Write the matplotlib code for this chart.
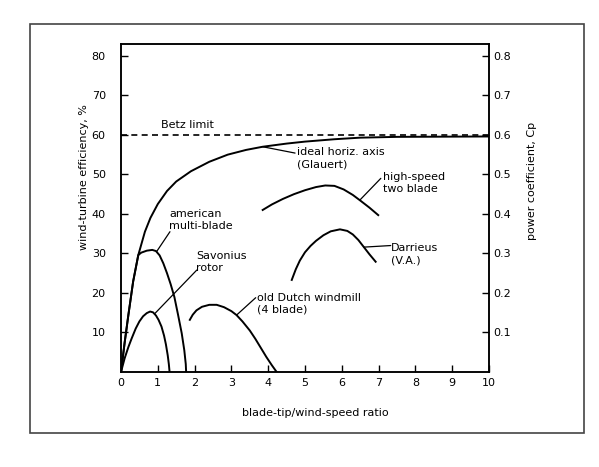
import matplotlib
matplotlib.use('Agg')
from matplotlib import pyplot as plt
from matplotlib.patches import Rectangle

# values (tip speed ratio, efficiency %)
glauert_x = [0, 0.1, 0.2, 0.33, 0.47, 0.65, 0.8, 1.0, 1.25, 1.5, 1.9, 2.4,
             2.9, 3.4, 3.85, 4.5, 5.0, 5.8, 6.5, 7.5, 10.0]
glauert_y = [0, 7.5, 14.4, 22.9, 29.6, 35.5, 39.0, 42.5, 45.8, 48.2, 50.8,
             53.2, 55.0, 56.2, 57.0, 57.8, 58.3, 58.9, 59.3, 59.5, 59.6]

american_x = [0, 0.1, 0.2, 0.33, 0.47, 0.55, 0.7, 0.85, 0.95, 1.05, 1.15,
              1.25, 1.35, 1.45, 1.55, 1.65, 1.72, 1.76, 1.77]
american_y = [0, 7.5, 14.4, 22.9, 29.6, 30.2, 30.7, 30.9, 30.6, 29.5, 27.5,
              25.0, 22.2, 19.0, 14.5, 9.8, 5.5, 2.0, 0]

savonius_x = [0, 0.1, 0.2, 0.29, 0.4, 0.5, 0.6, 0.7, 0.79, 0.87, 0.95, 1.02,
              1.1, 1.17, 1.22, 1.27, 1.3, 1.32]
savonius_y = [0, 3.5, 6.3, 8.5, 11.0, 12.8, 14.1, 14.9, 15.3, 15.1, 14.3,
              13.2, 11.5, 9.2, 7.0, 4.2, 2.0, 0]

dutch_x = [1.87, 1.95, 2.05, 2.2, 2.4, 2.6, 2.8, 3.0, 3.14, 3.3, 3.5, 3.65,
           3.8, 3.95, 4.1, 4.23]
dutch_y = [13.2, 14.5, 15.6, 16.5, 17.0, 17.0, 16.4, 15.4, 14.4, 12.8, 10.5,
           8.4, 6.1, 3.8, 1.7, 0]

highspeed_x = [3.85, 4.1, 4.4, 4.7, 5.0, 5.3, 5.55, 5.8, 6.05, 6.3, 6.5,
               6.75, 6.99]
highspeed_y = [41.0, 42.4, 43.8, 45.0, 46.0, 46.8, 47.2, 47.1, 46.2, 44.8,
               43.4, 41.6, 39.7]

darrieus_x = [4.64, 4.75, 4.86, 5.0, 5.15, 5.3, 5.5, 5.7, 5.95, 6.15, 6.3,
              6.45, 6.6, 6.75, 6.92]
darrieus_y = [23.3, 26.0, 28.2, 30.3, 31.9, 33.2, 34.6, 35.6, 36.1, 35.7,
              34.8, 33.4, 31.6, 29.8, 27.9]

betz = 60
eff_ticks = [10, 20, 30, 40, 50, 60, 70, 80]
cp_ticks = [0.1, 0.2, 0.3, 0.4, 0.5, 0.6, 0.7, 0.8]
x_ticks = [0, 1, 2, 3, 4, 5, 6, 7, 8, 9, 10]

plt.rcParams['font.family'] = ['DejaVu Sans']
fs = 8

fig = plt.figure(figsize=(5.99, 4.67), dpi=100)
ax = fig.add_axes([121 / 599, 1 - 372 / 467, 368 / 599, 328 / 467])

# outer frame around the whole figure
fig.patches.append(Rectangle((30 / 599, 1 - 433 / 467), 554 / 599, 409 / 467,
                             transform=fig.transFigure, fill=False,
                             ec='#444444', lw=1.2))

lw = 1.4
for xs, ys in [(glauert_x, glauert_y), (american_x, american_y),
               (savonius_x, savonius_y), (dutch_x, dutch_y),
               (highspeed_x, highspeed_y), (darrieus_x, darrieus_y)]:
    ax.plot(xs, ys, c='k', lw=lw, solid_joinstyle='round')
ax.axhline(betz, c='k', lw=1.2, ls=(0, (3.6, 2.6)))

ax.set_xlim(0, 10)
ax.set_ylim(0, 83)
ax.set_xticks(x_ticks)
ax.set_yticks(eff_ticks)
ax.tick_params(axis='y', direction='in', length=5, width=1, pad=11,
               labelsize=fs)
ax.tick_params(axis='x', direction='in', length=5, width=1, pad=4,
               labelsize=fs)
for s in ax.spines.values():
    s.set_linewidth(1.1)

ax2 = ax.twinx()
ax2.set_ylim(0, 0.83)
ax2.set_yticks(cp_ticks)
ax2.set_yticklabels([f'{v:.1f}' for v in cp_ticks])
ax2.tick_params(axis='y', direction='in', length=5, width=1, pad=3,
                labelsize=fs)
for s in ax2.spines.values():
    s.set_linewidth(1.1)

fig.text(315 / 599, 1 - 413 / 467, 'blade-tip/wind-speed ratio', fontsize=fs,
         ha='center', va='center')
fig.text(84 / 599, 1 - 177 / 467, 'wind-turbine efficiency, %', fontsize=fs,
         ha='center', va='center', rotation=90)
fig.text(532 / 599, 1 - 181 / 467, 'power coefficient, Cp', fontsize=fs,
         ha='center', va='center', rotation=90)

# labels with leader lines
ax.text(1.1, 62.5, 'Betz limit', fontsize=fs, va='center')
leader = dict(arrowstyle='-', color='k', lw=0.9, shrinkA=0, shrinkB=0)
notes = [
    ('ideal horiz. axis\n(Glauert)', (3.85, 57.0), (4.73, 55.4), (4.78, 54.1)),
    ('high-speed\ntwo blade', (6.49, 43.5), (7.06, 49.0), (7.13, 47.8)),
    ('Darrieus\n(V.A.)', (6.6, 31.6), (7.33, 32.0), (7.34, 29.8)),
    ('old Dutch windmill\n(4 blade)', (3.14, 14.4), (3.66, 18.8), (3.69, 17.3)),
    ('american\nmulti-blade', (0.97, 30.5), (1.33, 35.5), (1.31, 38.5)),
    ('Savonius\nrotor', (0.92, 14.8), (2.06, 25.8), (2.04, 27.9)),
]
for label, start, end, tpos in notes:
    ax.annotate('', xy=start, xytext=end, arrowprops=leader)
    ax.text(tpos[0], tpos[1], label, fontsize=fs, ha='left', va='center',
            linespacing=1.25)

fig.savefig('out.png', dpi=100)
